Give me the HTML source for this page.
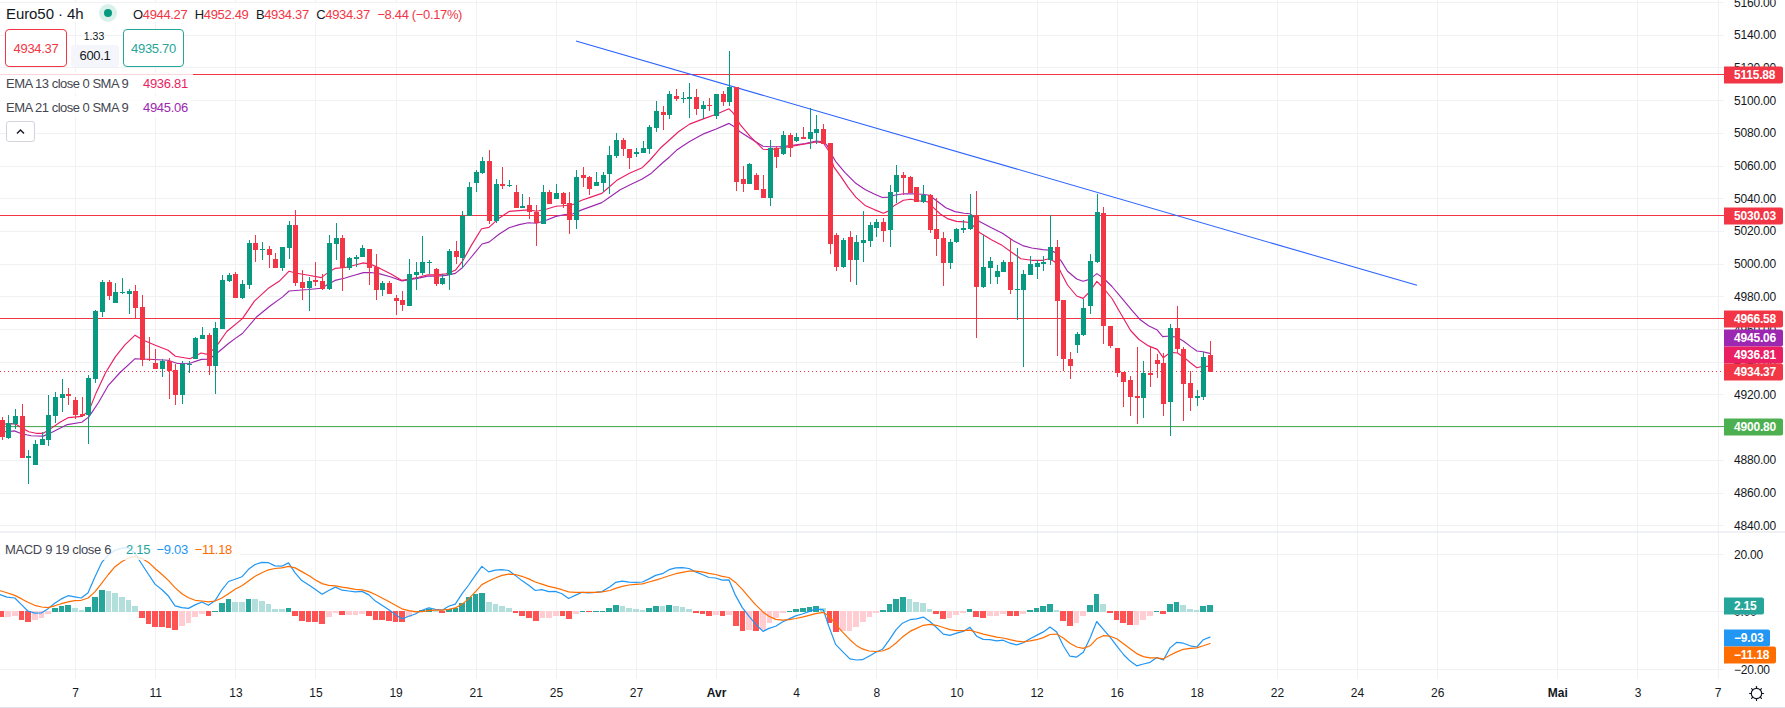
<!DOCTYPE html>
<html><head><meta charset="utf-8"><title>Euro50 4h</title>
<style>
html,body{margin:0;padding:0;background:#fff;}
body{width:1785px;height:708px;position:relative;overflow:hidden;font-family:"Liberation Sans", Arial, sans-serif;color:#131722;}
.t{position:absolute;white-space:nowrap;line-height:1;}
.ax{font-size:12px;left:1734px;transform:translateY(-50%);letter-spacing:-0.2px}
.tm{font-size:12px;top:687px;transform:translateX(-50%);}
.lb{position:absolute;left:1724px;height:17px;line-height:17px;color:#fff;font-size:12px;font-weight:bold;padding:0 6px 0 10px;border-radius:0 2px 2px 0;transform:translateY(-50%);letter-spacing:-0.2px;box-sizing:border-box}
.bg{position:absolute;background:rgba(255,255,255,0.8);}
</style></head><body>

<svg width="1785" height="708" viewBox="0 0 1785 708" style="position:absolute;left:0;top:0">
<g stroke="#f0f1f2" stroke-width="1" shape-rendering="crispEdges">
<line x1="75.5" y1="0" x2="75.5" y2="679"/>
<line x1="155.5" y1="0" x2="155.5" y2="679"/>
<line x1="235.5" y1="0" x2="235.5" y2="679"/>
<line x1="315.5" y1="0" x2="315.5" y2="679"/>
<line x1="396.5" y1="0" x2="396.5" y2="679"/>
<line x1="476.5" y1="0" x2="476.5" y2="679"/>
<line x1="556.5" y1="0" x2="556.5" y2="679"/>
<line x1="636.5" y1="0" x2="636.5" y2="679"/>
<line x1="716.5" y1="0" x2="716.5" y2="679"/>
<line x1="796.5" y1="0" x2="796.5" y2="679"/>
<line x1="876.5" y1="0" x2="876.5" y2="679"/>
<line x1="956.5" y1="0" x2="956.5" y2="679"/>
<line x1="1037.5" y1="0" x2="1037.5" y2="679"/>
<line x1="1117.5" y1="0" x2="1117.5" y2="679"/>
<line x1="1197.5" y1="0" x2="1197.5" y2="679"/>
<line x1="1277.5" y1="0" x2="1277.5" y2="679"/>
<line x1="1357.5" y1="0" x2="1357.5" y2="679"/>
<line x1="1437.5" y1="0" x2="1437.5" y2="679"/>
<line x1="1557.5" y1="0" x2="1557.5" y2="679"/>
<line x1="1637.5" y1="0" x2="1637.5" y2="679"/>
<line x1="1718.5" y1="0" x2="1718.5" y2="679"/>
<line x1="0" y1="525.5" x2="1724" y2="525.5"/>
<line x1="0" y1="493.5" x2="1724" y2="493.5"/>
<line x1="0" y1="460.5" x2="1724" y2="460.5"/>
<line x1="0" y1="427.5" x2="1724" y2="427.5"/>
<line x1="0" y1="394.5" x2="1724" y2="394.5"/>
<line x1="0" y1="362.5" x2="1724" y2="362.5"/>
<line x1="0" y1="329.5" x2="1724" y2="329.5"/>
<line x1="0" y1="296.5" x2="1724" y2="296.5"/>
<line x1="0" y1="264.5" x2="1724" y2="264.5"/>
<line x1="0" y1="231.5" x2="1724" y2="231.5"/>
<line x1="0" y1="198.5" x2="1724" y2="198.5"/>
<line x1="0" y1="166.5" x2="1724" y2="166.5"/>
<line x1="0" y1="133.5" x2="1724" y2="133.5"/>
<line x1="0" y1="100.5" x2="1724" y2="100.5"/>
<line x1="0" y1="67.5" x2="1724" y2="67.5"/>
<line x1="0" y1="35.5" x2="1724" y2="35.5"/>
<line x1="0" y1="2.5" x2="1724" y2="2.5"/>
<line x1="0" y1="554.5" x2="1724" y2="554.5"/>
<line x1="0" y1="611.5" x2="1724" y2="611.5"/>
<line x1="0" y1="669.5" x2="1724" y2="669.5"/>
</g>
<rect x="0" y="531.5" width="1785" height="1" fill="#e0e3eb"/>
<rect x="0" y="707" width="1785" height="1" fill="#e0e3eb"/>
<line x1="0" y1="74.5" x2="1724" y2="74.5" stroke="#f23645" stroke-width="1" shape-rendering="crispEdges"/>
<line x1="0" y1="215.5" x2="1724" y2="215.5" stroke="#f23645" stroke-width="1" shape-rendering="crispEdges"/>
<line x1="0" y1="318.5" x2="1724" y2="318.5" stroke="#f23645" stroke-width="1" shape-rendering="crispEdges"/>
<line x1="0" y1="426.5" x2="1724" y2="426.5" stroke="#4caf50" stroke-width="1" shape-rendering="crispEdges"/>
<line x1="0" y1="371.5" x2="1724" y2="371.5" stroke="#f23645" stroke-width="1" shape-rendering="crispEdges" stroke-dasharray="1 3"/>
<line x1="576" y1="41" x2="1417" y2="285.3" stroke="#2962ff" stroke-width="1.05"/>
<polyline points="0.0,431.5 7.2,431.8 14.4,430.9 21.6,433.7 31.2,435.7 43.2,436.1 51.6,432.5 67.3,424.6 81.7,422.2 88.9,416.9 98.5,402.5 108.1,385.7 120.1,372.5 135.1,358.7 148.9,359.3 168.1,360.2 177.5,363.5 190.0,363.3 201.4,359.4 209.0,359.2 219.0,351.5 228.2,343.7 236.0,337.9 242.4,333.5 256.5,317.0 270.0,306.0 282.7,296.9 289.1,291.0 308.4,289.5 321.3,288.2 328.6,284.0 335.0,280.4 345.1,278.0 354.3,275.2 363.5,272.6 370.8,272.5 380.0,273.9 391.0,277.0 402.0,280.9 409.4,279.8 418.5,278.1 427.7,276.1 436.9,276.1 446.1,275.4 455.3,273.4 462.6,267.5 471.8,256.5 482.0,244.0 489.0,242.1 499.0,234.2 509.1,227.7 519.2,224.6 528.4,222.8 536.7,223.3 546.8,220.0 556.0,216.4 565.1,214.5 572.5,214.0 581.7,209.9 590.8,206.6 601.8,202.6 609.2,197.5 620.2,189.7 631.2,184.2 642.2,179.1 651.4,173.2 662.4,163.0 669.8,156.7 676.7,150.1 689.6,141.5 704.2,133.6 716.2,129.0 729.0,123.4 733.6,126.3 740.0,131.8 750.1,138.2 763.0,146.3 770.3,146.8 779.5,146.7 790.5,145.6 805.2,143.5 816.2,141.0 823.6,141.8 827.2,145.5 830.1,152.1 835.6,161.3 844.8,172.3 855.8,183.3 865.0,189.4 874.2,194.0 882.4,197.5 888.9,197.1 894.4,195.3 903.5,193.8 912.7,193.8 921.9,194.3 929.3,195.3 936.6,200.8 945.8,207.7 955.0,211.6 964.1,213.2 970.0,213.8 979.5,221.4 991.4,227.8 1002.4,233.3 1013.4,240.7 1022.6,245.6 1031.8,248.0 1042.8,249.6 1050.1,250.2 1055.6,252.6 1058.3,257.5 1061.1,260.9 1067.5,271.2 1076.7,279.0 1083.1,281.3 1089.5,279.4 1096.9,273.6 1103.8,278.5 1112.0,286.5 1122.6,299.2 1132.4,310.8 1140.3,319.8 1148.5,325.7 1157.3,330.1 1162.7,336.6 1170.2,336.0 1177.5,337.6 1184.0,341.5 1191.0,346.9 1196.9,351.0 1202.8,351.8 1209.8,353.4" fill="none" stroke="#9c27b0" stroke-width="1.15" stroke-linejoin="round" stroke-linecap="round"/>
<polyline points="0.0,424.5 10.8,423.6 15.6,424.1 21.6,427.7 28.8,431.8 36.0,433.3 43.2,433.3 50.4,428.9 60.0,422.2 68.5,417.6 81.7,416.4 88.9,410.9 96.1,392.9 105.7,372.5 115.3,356.9 124.9,344.9 135.1,335.2 142.4,339.7 155.3,345.3 168.1,350.2 175.4,356.3 190.1,358.7 201.1,353.0 207.6,354.4 215.8,347.1 226.8,331.5 242.4,318.6 254.4,301.2 268.0,288.6 279.1,281.3 289.1,271.2 295.6,273.0 308.4,275.2 321.3,277.6 328.6,272.1 335.0,268.4 345.1,267.5 354.3,265.3 363.5,262.9 370.8,264.4 380.0,268.4 391.0,273.9 402.0,280.4 409.4,279.1 418.5,277.2 427.7,274.8 436.9,274.8 446.1,273.9 455.3,270.3 462.6,261.1 471.8,244.6 481.6,228.7 489.0,227.4 499.0,218.2 509.1,211.4 528.4,209.9 536.7,211.2 546.8,209.0 556.0,206.3 563.3,205.7 572.5,204.8 581.7,200.2 590.8,197.1 601.8,193.4 609.2,187.0 616.5,180.6 629.4,173.2 642.2,167.7 649.6,160.5 660.2,148.3 669.4,140.0 678.5,131.8 689.6,124.1 703.3,118.9 716.2,114.3 729.0,108.8 733.6,113.4 740.0,124.4 750.1,136.4 763.0,149.2 770.3,149.6 779.5,148.3 790.5,146.4 805.2,144.0 816.2,141.9 823.2,142.8 828.3,150.3 833.8,166.8 841.1,176.9 848.5,187.9 855.8,197.1 865.0,205.4 874.2,209.6 883.4,213.2 888.9,210.9 894.4,205.4 903.5,200.2 910.9,199.3 918.2,200.8 927.4,201.7 932.9,207.2 940.3,214.0 947.3,218.6 956.5,221.4 963.9,221.9 970.0,222.5 979.5,232.4 991.4,239.7 1002.4,245.6 1013.4,253.5 1020.8,258.7 1031.8,260.3 1042.8,260.3 1049.0,258.8 1054.7,261.8 1058.3,266.7 1061.1,272.8 1067.5,285.0 1076.7,296.0 1083.1,298.4 1089.5,292.0 1096.9,281.4 1103.8,288.5 1112.0,298.5 1120.8,313.8 1130.6,330.5 1139.0,339.5 1148.5,345.9 1157.3,349.4 1163.3,357.8 1170.2,352.4 1177.5,353.0 1184.0,357.4 1191.0,363.3 1196.9,367.8 1202.8,366.3 1209.8,366.3" fill="none" stroke="#e91e63" stroke-width="1.15" stroke-linejoin="round" stroke-linecap="round"/>
<rect x="2" y="417" width="1" height="23" fill="#f23645"/>
<rect x="0" y="420" width="5" height="17" fill="#f23645"/>
<rect x="8" y="415" width="1" height="24" fill="#089981"/>
<rect x="6" y="423" width="5" height="15" fill="#089981"/>
<rect x="15" y="409" width="1" height="20" fill="#089981"/>
<rect x="13" y="416" width="5" height="8" fill="#089981"/>
<rect x="22" y="404" width="1" height="54" fill="#f23645"/>
<rect x="20" y="416" width="5" height="42" fill="#f23645"/>
<rect x="28" y="450" width="1" height="34" fill="#089981"/>
<rect x="26" y="456" width="5" height="2" fill="#089981"/>
<rect x="35" y="440" width="1" height="25" fill="#089981"/>
<rect x="33" y="444" width="5" height="21" fill="#089981"/>
<rect x="42" y="432" width="1" height="13" fill="#089981"/>
<rect x="40" y="439" width="5" height="6" fill="#089981"/>
<rect x="48" y="395" width="1" height="51" fill="#089981"/>
<rect x="46" y="415" width="5" height="25" fill="#089981"/>
<rect x="55" y="392" width="1" height="31" fill="#089981"/>
<rect x="53" y="397" width="5" height="19" fill="#089981"/>
<rect x="62" y="379" width="1" height="33" fill="#089981"/>
<rect x="60" y="394" width="5" height="4" fill="#089981"/>
<rect x="68" y="388" width="1" height="17" fill="#f23645"/>
<rect x="66" y="394" width="5" height="2" fill="#f23645"/>
<rect x="75" y="397" width="1" height="22" fill="#f23645"/>
<rect x="73" y="400" width="5" height="15" fill="#f23645"/>
<rect x="82" y="397" width="1" height="20" fill="#f23645"/>
<rect x="80" y="414" width="5" height="2" fill="#f23645"/>
<rect x="88" y="375" width="1" height="69" fill="#089981"/>
<rect x="86" y="378" width="5" height="37" fill="#089981"/>
<rect x="95" y="310" width="1" height="73" fill="#089981"/>
<rect x="93" y="311" width="5" height="68" fill="#089981"/>
<rect x="102" y="280" width="1" height="37" fill="#089981"/>
<rect x="100" y="282" width="5" height="30" fill="#089981"/>
<rect x="109" y="280" width="1" height="20" fill="#f23645"/>
<rect x="107" y="282" width="5" height="14" fill="#f23645"/>
<rect x="115" y="283" width="1" height="20" fill="#089981"/>
<rect x="113" y="292" width="5" height="11" fill="#089981"/>
<rect x="122" y="278" width="1" height="16" fill="#089981"/>
<rect x="120" y="292" width="5" height="1" fill="#089981"/>
<rect x="129" y="289" width="1" height="25" fill="#089981"/>
<rect x="127" y="291" width="5" height="3" fill="#089981"/>
<rect x="135" y="285" width="1" height="33" fill="#f23645"/>
<rect x="133" y="291" width="5" height="17" fill="#f23645"/>
<rect x="142" y="295" width="1" height="71" fill="#f23645"/>
<rect x="140" y="307" width="5" height="53" fill="#f23645"/>
<rect x="149" y="337" width="1" height="24" fill="#f23645"/>
<rect x="147" y="359" width="5" height="1" fill="#f23645"/>
<rect x="155" y="349" width="1" height="20" fill="#f23645"/>
<rect x="153" y="363" width="5" height="6" fill="#f23645"/>
<rect x="162" y="359" width="1" height="18" fill="#089981"/>
<rect x="160" y="361" width="5" height="8" fill="#089981"/>
<rect x="169" y="358" width="1" height="41" fill="#f23645"/>
<rect x="167" y="361" width="5" height="10" fill="#f23645"/>
<rect x="175" y="364" width="1" height="41" fill="#f23645"/>
<rect x="173" y="370" width="5" height="25" fill="#f23645"/>
<rect x="182" y="361" width="1" height="43" fill="#089981"/>
<rect x="180" y="364" width="5" height="31" fill="#089981"/>
<rect x="189" y="361" width="1" height="12" fill="#089981"/>
<rect x="187" y="364" width="5" height="1" fill="#089981"/>
<rect x="195" y="337" width="1" height="22" fill="#089981"/>
<rect x="193" y="338" width="5" height="21" fill="#089981"/>
<rect x="202" y="327" width="1" height="12" fill="#089981"/>
<rect x="200" y="335" width="5" height="4" fill="#089981"/>
<rect x="209" y="333" width="1" height="42" fill="#f23645"/>
<rect x="207" y="335" width="5" height="31" fill="#f23645"/>
<rect x="215" y="322" width="1" height="72" fill="#089981"/>
<rect x="213" y="328" width="5" height="38" fill="#089981"/>
<rect x="222" y="275" width="1" height="54" fill="#089981"/>
<rect x="220" y="280" width="5" height="49" fill="#089981"/>
<rect x="229" y="273" width="1" height="9" fill="#089981"/>
<rect x="227" y="275" width="5" height="6" fill="#089981"/>
<rect x="235" y="272" width="1" height="26" fill="#f23645"/>
<rect x="233" y="274" width="5" height="24" fill="#f23645"/>
<rect x="242" y="280" width="1" height="19" fill="#089981"/>
<rect x="240" y="284" width="5" height="14" fill="#089981"/>
<rect x="249" y="240" width="1" height="49" fill="#089981"/>
<rect x="247" y="243" width="5" height="42" fill="#089981"/>
<rect x="255" y="235" width="1" height="27" fill="#f23645"/>
<rect x="253" y="243" width="5" height="7" fill="#f23645"/>
<rect x="262" y="242" width="1" height="18" fill="#089981"/>
<rect x="260" y="249" width="5" height="1" fill="#089981"/>
<rect x="269" y="246" width="1" height="22" fill="#f23645"/>
<rect x="267" y="249" width="5" height="6" fill="#f23645"/>
<rect x="275" y="253" width="1" height="15" fill="#f23645"/>
<rect x="273" y="259" width="5" height="9" fill="#f23645"/>
<rect x="282" y="247" width="1" height="24" fill="#089981"/>
<rect x="280" y="247" width="5" height="21" fill="#089981"/>
<rect x="289" y="221" width="1" height="38" fill="#089981"/>
<rect x="287" y="225" width="5" height="23" fill="#089981"/>
<rect x="295" y="210" width="1" height="76" fill="#f23645"/>
<rect x="293" y="225" width="5" height="58" fill="#f23645"/>
<rect x="302" y="270" width="1" height="30" fill="#f23645"/>
<rect x="300" y="282" width="5" height="6" fill="#f23645"/>
<rect x="309" y="277" width="1" height="34" fill="#089981"/>
<rect x="307" y="281" width="5" height="7" fill="#089981"/>
<rect x="315" y="262" width="1" height="24" fill="#f23645"/>
<rect x="313" y="280" width="5" height="2" fill="#f23645"/>
<rect x="322" y="274" width="1" height="16" fill="#f23645"/>
<rect x="320" y="281" width="5" height="8" fill="#f23645"/>
<rect x="329" y="235" width="1" height="55" fill="#089981"/>
<rect x="327" y="243" width="5" height="46" fill="#089981"/>
<rect x="336" y="223" width="1" height="37" fill="#089981"/>
<rect x="334" y="238" width="5" height="6" fill="#089981"/>
<rect x="342" y="235" width="1" height="56" fill="#f23645"/>
<rect x="340" y="238" width="5" height="30" fill="#f23645"/>
<rect x="349" y="257" width="1" height="13" fill="#089981"/>
<rect x="347" y="258" width="5" height="10" fill="#089981"/>
<rect x="356" y="255" width="1" height="12" fill="#089981"/>
<rect x="354" y="257" width="5" height="2" fill="#089981"/>
<rect x="362" y="245" width="1" height="12" fill="#089981"/>
<rect x="360" y="248" width="5" height="9" fill="#089981"/>
<rect x="369" y="249" width="1" height="36" fill="#f23645"/>
<rect x="367" y="249" width="5" height="19" fill="#f23645"/>
<rect x="376" y="254" width="1" height="46" fill="#f23645"/>
<rect x="374" y="267" width="5" height="23" fill="#f23645"/>
<rect x="382" y="281" width="1" height="15" fill="#089981"/>
<rect x="380" y="283" width="5" height="7" fill="#089981"/>
<rect x="389" y="281" width="1" height="13" fill="#f23645"/>
<rect x="387" y="283" width="5" height="11" fill="#f23645"/>
<rect x="396" y="295" width="1" height="20" fill="#f23645"/>
<rect x="394" y="298" width="5" height="3" fill="#f23645"/>
<rect x="402" y="291" width="1" height="20" fill="#f23645"/>
<rect x="400" y="300" width="5" height="5" fill="#f23645"/>
<rect x="409" y="259" width="1" height="47" fill="#089981"/>
<rect x="407" y="274" width="5" height="32" fill="#089981"/>
<rect x="416" y="262" width="1" height="28" fill="#089981"/>
<rect x="414" y="272" width="5" height="3" fill="#089981"/>
<rect x="422" y="236" width="1" height="39" fill="#089981"/>
<rect x="420" y="262" width="5" height="11" fill="#089981"/>
<rect x="429" y="260" width="1" height="14" fill="#089981"/>
<rect x="427" y="262" width="5" height="1" fill="#089981"/>
<rect x="436" y="268" width="1" height="18" fill="#f23645"/>
<rect x="434" y="269" width="5" height="15" fill="#f23645"/>
<rect x="442" y="274" width="1" height="11" fill="#089981"/>
<rect x="440" y="278" width="5" height="6" fill="#089981"/>
<rect x="449" y="249" width="1" height="41" fill="#089981"/>
<rect x="447" y="251" width="5" height="24" fill="#089981"/>
<rect x="456" y="241" width="1" height="23" fill="#f23645"/>
<rect x="454" y="251" width="5" height="6" fill="#f23645"/>
<rect x="462" y="211" width="1" height="57" fill="#089981"/>
<rect x="460" y="216" width="5" height="42" fill="#089981"/>
<rect x="469" y="182" width="1" height="34" fill="#089981"/>
<rect x="467" y="187" width="5" height="29" fill="#089981"/>
<rect x="476" y="170" width="1" height="22" fill="#089981"/>
<rect x="474" y="172" width="5" height="11" fill="#089981"/>
<rect x="482" y="157" width="1" height="17" fill="#089981"/>
<rect x="480" y="161" width="5" height="12" fill="#089981"/>
<rect x="489" y="150" width="1" height="74" fill="#f23645"/>
<rect x="487" y="161" width="5" height="60" fill="#f23645"/>
<rect x="496" y="179" width="1" height="44" fill="#089981"/>
<rect x="494" y="184" width="5" height="37" fill="#089981"/>
<rect x="502" y="167" width="1" height="22" fill="#f23645"/>
<rect x="500" y="184" width="5" height="2" fill="#f23645"/>
<rect x="509" y="180" width="1" height="7" fill="#089981"/>
<rect x="507" y="185" width="5" height="1" fill="#089981"/>
<rect x="516" y="185" width="1" height="23" fill="#f23645"/>
<rect x="514" y="192" width="5" height="16" fill="#f23645"/>
<rect x="522" y="194" width="1" height="14" fill="#089981"/>
<rect x="520" y="206" width="5" height="2" fill="#089981"/>
<rect x="529" y="197" width="1" height="22" fill="#f23645"/>
<rect x="527" y="205" width="5" height="7" fill="#f23645"/>
<rect x="536" y="205" width="1" height="41" fill="#f23645"/>
<rect x="534" y="212" width="5" height="11" fill="#f23645"/>
<rect x="543" y="185" width="1" height="39" fill="#089981"/>
<rect x="541" y="192" width="5" height="32" fill="#089981"/>
<rect x="549" y="190" width="1" height="14" fill="#f23645"/>
<rect x="547" y="192" width="5" height="12" fill="#f23645"/>
<rect x="556" y="184" width="1" height="15" fill="#089981"/>
<rect x="554" y="193" width="5" height="6" fill="#089981"/>
<rect x="563" y="192" width="1" height="16" fill="#f23645"/>
<rect x="561" y="193" width="5" height="11" fill="#f23645"/>
<rect x="569" y="192" width="1" height="42" fill="#f23645"/>
<rect x="567" y="203" width="5" height="17" fill="#f23645"/>
<rect x="576" y="170" width="1" height="59" fill="#089981"/>
<rect x="574" y="177" width="5" height="43" fill="#089981"/>
<rect x="583" y="167" width="1" height="20" fill="#f23645"/>
<rect x="581" y="175" width="5" height="3" fill="#f23645"/>
<rect x="589" y="176" width="1" height="19" fill="#f23645"/>
<rect x="587" y="177" width="5" height="12" fill="#f23645"/>
<rect x="596" y="172" width="1" height="14" fill="#089981"/>
<rect x="594" y="182" width="5" height="4" fill="#089981"/>
<rect x="603" y="172" width="1" height="20" fill="#089981"/>
<rect x="601" y="175" width="5" height="8" fill="#089981"/>
<rect x="609" y="146" width="1" height="48" fill="#089981"/>
<rect x="607" y="155" width="5" height="19" fill="#089981"/>
<rect x="616" y="133" width="1" height="25" fill="#089981"/>
<rect x="614" y="140" width="5" height="16" fill="#089981"/>
<rect x="623" y="138" width="1" height="18" fill="#f23645"/>
<rect x="621" y="140" width="5" height="9" fill="#f23645"/>
<rect x="629" y="149" width="1" height="20" fill="#f23645"/>
<rect x="627" y="149" width="5" height="9" fill="#f23645"/>
<rect x="636" y="148" width="1" height="9" fill="#089981"/>
<rect x="634" y="152" width="5" height="2" fill="#089981"/>
<rect x="643" y="141" width="1" height="12" fill="#089981"/>
<rect x="641" y="148" width="5" height="5" fill="#089981"/>
<rect x="649" y="125" width="1" height="29" fill="#089981"/>
<rect x="647" y="127" width="5" height="22" fill="#089981"/>
<rect x="656" y="101" width="1" height="31" fill="#089981"/>
<rect x="654" y="111" width="5" height="17" fill="#089981"/>
<rect x="663" y="106" width="1" height="24" fill="#f23645"/>
<rect x="661" y="112" width="5" height="3" fill="#f23645"/>
<rect x="669" y="91" width="1" height="28" fill="#089981"/>
<rect x="667" y="94" width="5" height="21" fill="#089981"/>
<rect x="676" y="89" width="1" height="12" fill="#f23645"/>
<rect x="674" y="96" width="5" height="3" fill="#f23645"/>
<rect x="683" y="92" width="1" height="11" fill="#089981"/>
<rect x="681" y="98" width="5" height="1" fill="#089981"/>
<rect x="689" y="83" width="1" height="35" fill="#089981"/>
<rect x="687" y="97" width="5" height="2" fill="#089981"/>
<rect x="696" y="89" width="1" height="26" fill="#f23645"/>
<rect x="694" y="97" width="5" height="12" fill="#f23645"/>
<rect x="703" y="101" width="1" height="18" fill="#089981"/>
<rect x="701" y="105" width="5" height="4" fill="#089981"/>
<rect x="709" y="98" width="1" height="13" fill="#f23645"/>
<rect x="707" y="105" width="5" height="1" fill="#f23645"/>
<rect x="716" y="94" width="1" height="25" fill="#089981"/>
<rect x="714" y="94" width="5" height="22" fill="#089981"/>
<rect x="723" y="91" width="1" height="15" fill="#f23645"/>
<rect x="721" y="94" width="5" height="8" fill="#f23645"/>
<rect x="729" y="51" width="1" height="55" fill="#089981"/>
<rect x="727" y="87" width="5" height="15" fill="#089981"/>
<rect x="736" y="87" width="1" height="104" fill="#f23645"/>
<rect x="734" y="87" width="5" height="95" fill="#f23645"/>
<rect x="743" y="166" width="1" height="26" fill="#f23645"/>
<rect x="741" y="179" width="5" height="5" fill="#f23645"/>
<rect x="749" y="163" width="1" height="21" fill="#089981"/>
<rect x="747" y="164" width="5" height="20" fill="#089981"/>
<rect x="756" y="173" width="1" height="17" fill="#f23645"/>
<rect x="754" y="175" width="5" height="15" fill="#f23645"/>
<rect x="763" y="175" width="1" height="23" fill="#f23645"/>
<rect x="761" y="189" width="5" height="9" fill="#f23645"/>
<rect x="770" y="140" width="1" height="66" fill="#089981"/>
<rect x="768" y="148" width="5" height="50" fill="#089981"/>
<rect x="776" y="146" width="1" height="22" fill="#f23645"/>
<rect x="774" y="148" width="5" height="9" fill="#f23645"/>
<rect x="783" y="131" width="1" height="24" fill="#089981"/>
<rect x="781" y="135" width="5" height="19" fill="#089981"/>
<rect x="790" y="133" width="1" height="24" fill="#f23645"/>
<rect x="788" y="135" width="5" height="13" fill="#f23645"/>
<rect x="796" y="133" width="1" height="9" fill="#089981"/>
<rect x="794" y="137" width="5" height="4" fill="#089981"/>
<rect x="803" y="127" width="1" height="12" fill="#f23645"/>
<rect x="801" y="137" width="5" height="2" fill="#f23645"/>
<rect x="810" y="108" width="1" height="41" fill="#089981"/>
<rect x="808" y="132" width="5" height="7" fill="#089981"/>
<rect x="816" y="115" width="1" height="29" fill="#089981"/>
<rect x="814" y="129" width="5" height="4" fill="#089981"/>
<rect x="823" y="124" width="1" height="20" fill="#f23645"/>
<rect x="821" y="129" width="5" height="15" fill="#f23645"/>
<rect x="830" y="143" width="1" height="111" fill="#f23645"/>
<rect x="828" y="143" width="5" height="101" fill="#f23645"/>
<rect x="836" y="233" width="1" height="38" fill="#f23645"/>
<rect x="834" y="235" width="5" height="32" fill="#f23645"/>
<rect x="843" y="238" width="1" height="30" fill="#089981"/>
<rect x="841" y="240" width="5" height="27" fill="#089981"/>
<rect x="850" y="231" width="1" height="51" fill="#f23645"/>
<rect x="848" y="237" width="5" height="23" fill="#f23645"/>
<rect x="856" y="235" width="1" height="50" fill="#089981"/>
<rect x="854" y="242" width="5" height="18" fill="#089981"/>
<rect x="863" y="211" width="1" height="51" fill="#089981"/>
<rect x="861" y="240" width="5" height="3" fill="#089981"/>
<rect x="870" y="222" width="1" height="25" fill="#089981"/>
<rect x="868" y="225" width="5" height="16" fill="#089981"/>
<rect x="876" y="219" width="1" height="18" fill="#089981"/>
<rect x="874" y="222" width="5" height="6" fill="#089981"/>
<rect x="883" y="218" width="1" height="24" fill="#f23645"/>
<rect x="881" y="222" width="5" height="9" fill="#f23645"/>
<rect x="890" y="185" width="1" height="62" fill="#089981"/>
<rect x="888" y="192" width="5" height="38" fill="#089981"/>
<rect x="896" y="165" width="1" height="38" fill="#089981"/>
<rect x="894" y="175" width="5" height="17" fill="#089981"/>
<rect x="903" y="172" width="1" height="23" fill="#f23645"/>
<rect x="901" y="175" width="5" height="3" fill="#f23645"/>
<rect x="910" y="176" width="1" height="17" fill="#f23645"/>
<rect x="908" y="177" width="5" height="16" fill="#f23645"/>
<rect x="916" y="187" width="1" height="15" fill="#f23645"/>
<rect x="914" y="187" width="5" height="15" fill="#f23645"/>
<rect x="923" y="185" width="1" height="18" fill="#089981"/>
<rect x="921" y="195" width="5" height="7" fill="#089981"/>
<rect x="930" y="194" width="1" height="39" fill="#f23645"/>
<rect x="928" y="195" width="5" height="35" fill="#f23645"/>
<rect x="936" y="198" width="1" height="58" fill="#f23645"/>
<rect x="934" y="229" width="5" height="10" fill="#f23645"/>
<rect x="943" y="232" width="1" height="54" fill="#f23645"/>
<rect x="941" y="238" width="5" height="25" fill="#f23645"/>
<rect x="950" y="239" width="1" height="30" fill="#089981"/>
<rect x="948" y="242" width="5" height="21" fill="#089981"/>
<rect x="956" y="228" width="1" height="15" fill="#089981"/>
<rect x="954" y="229" width="5" height="13" fill="#089981"/>
<rect x="963" y="220" width="1" height="13" fill="#089981"/>
<rect x="961" y="228" width="5" height="2" fill="#089981"/>
<rect x="970" y="194" width="1" height="36" fill="#089981"/>
<rect x="968" y="215" width="5" height="14" fill="#089981"/>
<rect x="976" y="191" width="1" height="147" fill="#f23645"/>
<rect x="974" y="215" width="5" height="72" fill="#f23645"/>
<rect x="983" y="235" width="1" height="53" fill="#089981"/>
<rect x="981" y="267" width="5" height="20" fill="#089981"/>
<rect x="990" y="257" width="1" height="27" fill="#089981"/>
<rect x="988" y="261" width="5" height="7" fill="#089981"/>
<rect x="997" y="265" width="1" height="19" fill="#089981"/>
<rect x="995" y="271" width="5" height="6" fill="#089981"/>
<rect x="1003" y="260" width="1" height="12" fill="#089981"/>
<rect x="1001" y="262" width="5" height="10" fill="#089981"/>
<rect x="1010" y="238" width="1" height="56" fill="#f23645"/>
<rect x="1008" y="262" width="5" height="28" fill="#f23645"/>
<rect x="1017" y="248" width="1" height="72" fill="#089981"/>
<rect x="1015" y="289" width="5" height="1" fill="#089981"/>
<rect x="1023" y="270" width="1" height="97" fill="#089981"/>
<rect x="1021" y="274" width="5" height="16" fill="#089981"/>
<rect x="1030" y="256" width="1" height="19" fill="#089981"/>
<rect x="1028" y="264" width="5" height="11" fill="#089981"/>
<rect x="1037" y="260" width="1" height="19" fill="#089981"/>
<rect x="1035" y="263" width="5" height="4" fill="#089981"/>
<rect x="1043" y="256" width="1" height="15" fill="#089981"/>
<rect x="1041" y="262" width="5" height="2" fill="#089981"/>
<rect x="1050" y="215" width="1" height="50" fill="#089981"/>
<rect x="1048" y="247" width="5" height="13" fill="#089981"/>
<rect x="1057" y="240" width="1" height="116" fill="#f23645"/>
<rect x="1055" y="247" width="5" height="54" fill="#f23645"/>
<rect x="1063" y="300" width="1" height="71" fill="#f23645"/>
<rect x="1061" y="300" width="5" height="59" fill="#f23645"/>
<rect x="1070" y="352" width="1" height="27" fill="#f23645"/>
<rect x="1068" y="359" width="5" height="7" fill="#f23645"/>
<rect x="1077" y="332" width="1" height="21" fill="#089981"/>
<rect x="1075" y="334" width="5" height="11" fill="#089981"/>
<rect x="1083" y="299" width="1" height="37" fill="#089981"/>
<rect x="1081" y="308" width="5" height="27" fill="#089981"/>
<rect x="1090" y="254" width="1" height="60" fill="#089981"/>
<rect x="1088" y="261" width="5" height="45" fill="#089981"/>
<rect x="1097" y="194" width="1" height="69" fill="#089981"/>
<rect x="1095" y="212" width="5" height="50" fill="#089981"/>
<rect x="1103" y="207" width="1" height="137" fill="#f23645"/>
<rect x="1101" y="213" width="5" height="113" fill="#f23645"/>
<rect x="1110" y="326" width="1" height="22" fill="#f23645"/>
<rect x="1108" y="326" width="5" height="20" fill="#f23645"/>
<rect x="1117" y="348" width="1" height="29" fill="#f23645"/>
<rect x="1115" y="348" width="5" height="25" fill="#f23645"/>
<rect x="1123" y="372" width="1" height="35" fill="#f23645"/>
<rect x="1121" y="372" width="5" height="10" fill="#f23645"/>
<rect x="1130" y="376" width="1" height="40" fill="#f23645"/>
<rect x="1128" y="380" width="5" height="17" fill="#f23645"/>
<rect x="1137" y="347" width="1" height="77" fill="#f23645"/>
<rect x="1135" y="396" width="5" height="2" fill="#f23645"/>
<rect x="1143" y="361" width="1" height="57" fill="#089981"/>
<rect x="1141" y="373" width="5" height="25" fill="#089981"/>
<rect x="1150" y="346" width="1" height="41" fill="#f23645"/>
<rect x="1148" y="373" width="5" height="2" fill="#f23645"/>
<rect x="1157" y="354" width="1" height="24" fill="#f23645"/>
<rect x="1155" y="360" width="5" height="4" fill="#f23645"/>
<rect x="1163" y="353" width="1" height="63" fill="#f23645"/>
<rect x="1161" y="363" width="5" height="41" fill="#f23645"/>
<rect x="1170" y="324" width="1" height="112" fill="#089981"/>
<rect x="1168" y="328" width="5" height="74" fill="#089981"/>
<rect x="1177" y="306" width="1" height="47" fill="#f23645"/>
<rect x="1175" y="328" width="5" height="21" fill="#f23645"/>
<rect x="1183" y="347" width="1" height="74" fill="#f23645"/>
<rect x="1181" y="349" width="5" height="35" fill="#f23645"/>
<rect x="1190" y="371" width="1" height="40" fill="#f23645"/>
<rect x="1188" y="383" width="5" height="15" fill="#f23645"/>
<rect x="1197" y="390" width="1" height="16" fill="#089981"/>
<rect x="1195" y="396" width="5" height="2" fill="#089981"/>
<rect x="1203" y="352" width="1" height="48" fill="#089981"/>
<rect x="1201" y="357" width="5" height="40" fill="#089981"/>
<rect x="1210" y="341" width="1" height="31" fill="#f23645"/>
<rect x="1208" y="355" width="5" height="17" fill="#f23645"/>
<rect x="-1" y="611" width="5" height="6" fill="#ff5252"/>
<rect x="5" y="611" width="6" height="6" fill="#ffcdd2"/>
<rect x="12" y="611" width="6" height="5" fill="#ffcdd2"/>
<rect x="19" y="611" width="5" height="9" fill="#ff5252"/>
<rect x="25" y="611" width="6" height="11" fill="#ff5252"/>
<rect x="32" y="611" width="6" height="9" fill="#ffcdd2"/>
<rect x="39" y="611" width="5" height="7" fill="#ffcdd2"/>
<rect x="45" y="611" width="6" height="3" fill="#ffcdd2"/>
<rect x="52" y="608" width="6" height="4" fill="#26a69a"/>
<rect x="59" y="606" width="5" height="6" fill="#26a69a"/>
<rect x="65" y="605" width="6" height="7" fill="#26a69a"/>
<rect x="72" y="608" width="6" height="4" fill="#b2dfdb"/>
<rect x="79" y="610" width="5" height="2" fill="#b2dfdb"/>
<rect x="85" y="607" width="6" height="5" fill="#26a69a"/>
<rect x="92" y="597" width="6" height="15" fill="#26a69a"/>
<rect x="99" y="590" width="6" height="22" fill="#26a69a"/>
<rect x="106" y="591" width="5" height="21" fill="#b2dfdb"/>
<rect x="112" y="593" width="6" height="19" fill="#b2dfdb"/>
<rect x="119" y="597" width="6" height="15" fill="#b2dfdb"/>
<rect x="126" y="600" width="5" height="12" fill="#b2dfdb"/>
<rect x="132" y="606" width="6" height="6" fill="#b2dfdb"/>
<rect x="139" y="611" width="6" height="7" fill="#ff5252"/>
<rect x="146" y="611" width="5" height="13" fill="#ff5252"/>
<rect x="152" y="611" width="6" height="16" fill="#ff5252"/>
<rect x="159" y="611" width="6" height="16" fill="#ff5252"/>
<rect x="166" y="611" width="5" height="17" fill="#ff5252"/>
<rect x="172" y="611" width="6" height="19" fill="#ff5252"/>
<rect x="179" y="611" width="6" height="15" fill="#ffcdd2"/>
<rect x="186" y="611" width="5" height="12" fill="#ffcdd2"/>
<rect x="192" y="611" width="6" height="6" fill="#ffcdd2"/>
<rect x="199" y="611" width="6" height="3" fill="#ffcdd2"/>
<rect x="206" y="611" width="5" height="5" fill="#ff5252"/>
<rect x="212" y="611" width="6" height="1" fill="#26a69a"/>
<rect x="219" y="603" width="6" height="9" fill="#26a69a"/>
<rect x="226" y="599" width="5" height="13" fill="#26a69a"/>
<rect x="232" y="602" width="6" height="10" fill="#b2dfdb"/>
<rect x="239" y="602" width="6" height="10" fill="#b2dfdb"/>
<rect x="246" y="599" width="5" height="13" fill="#26a69a"/>
<rect x="252" y="599" width="6" height="13" fill="#b2dfdb"/>
<rect x="259" y="601" width="6" height="11" fill="#b2dfdb"/>
<rect x="266" y="604" width="5" height="8" fill="#b2dfdb"/>
<rect x="272" y="609" width="6" height="3" fill="#b2dfdb"/>
<rect x="279" y="609" width="6" height="3" fill="#b2dfdb"/>
<rect x="286" y="608" width="5" height="4" fill="#26a69a"/>
<rect x="292" y="611" width="6" height="5" fill="#ff5252"/>
<rect x="299" y="611" width="6" height="10" fill="#ff5252"/>
<rect x="306" y="611" width="5" height="11" fill="#ff5252"/>
<rect x="312" y="611" width="6" height="11" fill="#ff5252"/>
<rect x="319" y="611" width="6" height="13" fill="#ff5252"/>
<rect x="326" y="611" width="6" height="6" fill="#ffcdd2"/>
<rect x="333" y="611" width="5" height="2" fill="#ffcdd2"/>
<rect x="339" y="611" width="6" height="4" fill="#ff5252"/>
<rect x="346" y="611" width="6" height="4" fill="#ffcdd2"/>
<rect x="353" y="611" width="5" height="4" fill="#ffcdd2"/>
<rect x="359" y="611" width="6" height="3" fill="#ffcdd2"/>
<rect x="366" y="611" width="6" height="5" fill="#ff5252"/>
<rect x="373" y="611" width="5" height="9" fill="#ff5252"/>
<rect x="379" y="611" width="6" height="9" fill="#ff5252"/>
<rect x="386" y="611" width="6" height="10" fill="#ff5252"/>
<rect x="393" y="611" width="5" height="11" fill="#ff5252"/>
<rect x="399" y="611" width="6" height="11" fill="#ff5252"/>
<rect x="406" y="611" width="6" height="6" fill="#ffcdd2"/>
<rect x="413" y="611" width="5" height="2" fill="#ffcdd2"/>
<rect x="419" y="610" width="6" height="2" fill="#26a69a"/>
<rect x="426" y="609" width="6" height="3" fill="#26a69a"/>
<rect x="433" y="611" width="5" height="1" fill="#b2dfdb"/>
<rect x="439" y="611" width="6" height="2" fill="#ff5252"/>
<rect x="446" y="609" width="6" height="3" fill="#26a69a"/>
<rect x="453" y="608" width="5" height="4" fill="#26a69a"/>
<rect x="459" y="603" width="6" height="9" fill="#26a69a"/>
<rect x="466" y="597" width="6" height="15" fill="#26a69a"/>
<rect x="473" y="594" width="5" height="18" fill="#26a69a"/>
<rect x="479" y="593" width="6" height="19" fill="#26a69a"/>
<rect x="486" y="602" width="6" height="10" fill="#b2dfdb"/>
<rect x="493" y="604" width="5" height="8" fill="#b2dfdb"/>
<rect x="499" y="606" width="6" height="6" fill="#b2dfdb"/>
<rect x="506" y="608" width="6" height="4" fill="#b2dfdb"/>
<rect x="513" y="611" width="5" height="2" fill="#ff5252"/>
<rect x="519" y="611" width="6" height="5" fill="#ff5252"/>
<rect x="526" y="611" width="6" height="7" fill="#ff5252"/>
<rect x="533" y="611" width="6" height="10" fill="#ff5252"/>
<rect x="540" y="611" width="5" height="7" fill="#ffcdd2"/>
<rect x="546" y="611" width="6" height="7" fill="#ffcdd2"/>
<rect x="553" y="611" width="6" height="5" fill="#ffcdd2"/>
<rect x="560" y="611" width="5" height="5" fill="#ff5252"/>
<rect x="566" y="611" width="6" height="8" fill="#ff5252"/>
<rect x="573" y="611" width="6" height="3" fill="#ffcdd2"/>
<rect x="580" y="611" width="5" height="1" fill="#26a69a"/>
<rect x="586" y="611" width="6" height="1" fill="#ff5252"/>
<rect x="593" y="611" width="6" height="1" fill="#26a69a"/>
<rect x="600" y="611" width="5" height="1" fill="#26a69a"/>
<rect x="606" y="608" width="6" height="4" fill="#26a69a"/>
<rect x="613" y="605" width="6" height="7" fill="#26a69a"/>
<rect x="620" y="606" width="5" height="6" fill="#b2dfdb"/>
<rect x="626" y="608" width="6" height="4" fill="#b2dfdb"/>
<rect x="633" y="609" width="6" height="3" fill="#b2dfdb"/>
<rect x="640" y="610" width="5" height="2" fill="#b2dfdb"/>
<rect x="646" y="608" width="6" height="4" fill="#26a69a"/>
<rect x="653" y="606" width="6" height="6" fill="#26a69a"/>
<rect x="660" y="606" width="5" height="6" fill="#b2dfdb"/>
<rect x="666" y="605" width="6" height="7" fill="#26a69a"/>
<rect x="673" y="606" width="6" height="6" fill="#b2dfdb"/>
<rect x="680" y="607" width="5" height="5" fill="#b2dfdb"/>
<rect x="686" y="609" width="6" height="3" fill="#b2dfdb"/>
<rect x="693" y="611" width="6" height="2" fill="#ff5252"/>
<rect x="700" y="611" width="5" height="3" fill="#ff5252"/>
<rect x="706" y="611" width="6" height="5" fill="#ff5252"/>
<rect x="713" y="611" width="6" height="4" fill="#ffcdd2"/>
<rect x="720" y="611" width="5" height="5" fill="#ff5252"/>
<rect x="726" y="611" width="6" height="4" fill="#ffcdd2"/>
<rect x="733" y="611" width="6" height="15" fill="#ff5252"/>
<rect x="740" y="611" width="5" height="20" fill="#ff5252"/>
<rect x="746" y="611" width="6" height="19" fill="#ffcdd2"/>
<rect x="753" y="611" width="6" height="20" fill="#ff5252"/>
<rect x="760" y="611" width="6" height="19" fill="#ffcdd2"/>
<rect x="767" y="611" width="5" height="12" fill="#ffcdd2"/>
<rect x="773" y="611" width="6" height="7" fill="#ffcdd2"/>
<rect x="780" y="611" width="6" height="2" fill="#ffcdd2"/>
<rect x="787" y="611" width="5" height="1" fill="#26a69a"/>
<rect x="793" y="609" width="6" height="3" fill="#26a69a"/>
<rect x="800" y="608" width="6" height="4" fill="#26a69a"/>
<rect x="807" y="607" width="5" height="5" fill="#26a69a"/>
<rect x="813" y="606" width="6" height="6" fill="#26a69a"/>
<rect x="820" y="608" width="6" height="4" fill="#b2dfdb"/>
<rect x="827" y="611" width="5" height="12" fill="#ff5252"/>
<rect x="833" y="611" width="6" height="21" fill="#ff5252"/>
<rect x="840" y="611" width="6" height="20" fill="#ffcdd2"/>
<rect x="847" y="611" width="5" height="20" fill="#ffcdd2"/>
<rect x="853" y="611" width="6" height="16" fill="#ffcdd2"/>
<rect x="860" y="611" width="6" height="11" fill="#ffcdd2"/>
<rect x="867" y="611" width="5" height="6" fill="#ffcdd2"/>
<rect x="873" y="611" width="6" height="2" fill="#ffcdd2"/>
<rect x="880" y="610" width="6" height="2" fill="#26a69a"/>
<rect x="887" y="604" width="5" height="8" fill="#26a69a"/>
<rect x="893" y="599" width="6" height="13" fill="#26a69a"/>
<rect x="900" y="597" width="6" height="15" fill="#26a69a"/>
<rect x="907" y="599" width="5" height="13" fill="#b2dfdb"/>
<rect x="913" y="602" width="6" height="10" fill="#b2dfdb"/>
<rect x="920" y="603" width="6" height="9" fill="#b2dfdb"/>
<rect x="927" y="609" width="5" height="3" fill="#b2dfdb"/>
<rect x="933" y="611" width="6" height="3" fill="#ff5252"/>
<rect x="940" y="611" width="6" height="8" fill="#ff5252"/>
<rect x="947" y="611" width="5" height="7" fill="#ffcdd2"/>
<rect x="953" y="611" width="6" height="4" fill="#ffcdd2"/>
<rect x="960" y="611" width="6" height="2" fill="#ffcdd2"/>
<rect x="967" y="609" width="5" height="3" fill="#26a69a"/>
<rect x="973" y="611" width="6" height="6" fill="#ff5252"/>
<rect x="980" y="611" width="6" height="7" fill="#ff5252"/>
<rect x="987" y="611" width="6" height="5" fill="#ffcdd2"/>
<rect x="994" y="611" width="5" height="5" fill="#ffcdd2"/>
<rect x="1000" y="611" width="6" height="3" fill="#ffcdd2"/>
<rect x="1007" y="611" width="6" height="5" fill="#ff5252"/>
<rect x="1014" y="611" width="5" height="5" fill="#ff5252"/>
<rect x="1020" y="611" width="6" height="3" fill="#ffcdd2"/>
<rect x="1027" y="610" width="6" height="2" fill="#26a69a"/>
<rect x="1034" y="608" width="5" height="4" fill="#26a69a"/>
<rect x="1040" y="606" width="6" height="6" fill="#26a69a"/>
<rect x="1047" y="604" width="6" height="8" fill="#26a69a"/>
<rect x="1054" y="610" width="5" height="2" fill="#b2dfdb"/>
<rect x="1060" y="611" width="6" height="10" fill="#ff5252"/>
<rect x="1067" y="611" width="6" height="15" fill="#ff5252"/>
<rect x="1074" y="611" width="5" height="12" fill="#ffcdd2"/>
<rect x="1080" y="611" width="6" height="5" fill="#ffcdd2"/>
<rect x="1087" y="605" width="6" height="7" fill="#26a69a"/>
<rect x="1094" y="594" width="5" height="18" fill="#26a69a"/>
<rect x="1100" y="604" width="6" height="8" fill="#b2dfdb"/>
<rect x="1107" y="611" width="6" height="2" fill="#ff5252"/>
<rect x="1114" y="611" width="5" height="9" fill="#ff5252"/>
<rect x="1120" y="611" width="6" height="12" fill="#ff5252"/>
<rect x="1127" y="611" width="6" height="14" fill="#ff5252"/>
<rect x="1134" y="611" width="5" height="14" fill="#ffcdd2"/>
<rect x="1140" y="611" width="6" height="9" fill="#ffcdd2"/>
<rect x="1147" y="611" width="6" height="5" fill="#ffcdd2"/>
<rect x="1154" y="611" width="5" height="1" fill="#26a69a"/>
<rect x="1160" y="611" width="6" height="3" fill="#ff5252"/>
<rect x="1167" y="604" width="6" height="8" fill="#26a69a"/>
<rect x="1174" y="602" width="5" height="10" fill="#26a69a"/>
<rect x="1180" y="605" width="6" height="7" fill="#b2dfdb"/>
<rect x="1187" y="609" width="6" height="3" fill="#b2dfdb"/>
<rect x="1194" y="610" width="5" height="2" fill="#b2dfdb"/>
<rect x="1200" y="606" width="6" height="6" fill="#26a69a"/>
<rect x="1207" y="605" width="6" height="7" fill="#26a69a"/>
<polyline points="0.0,594.5 7.0,597.1 14.8,598.0 21.7,604.9 27.8,611.0 34.8,613.1 41.7,612.8 47.8,608.9 54.7,603.2 61.3,598.9 68.1,595.7 74.7,596.8 81.3,598.0 88.1,592.8 94.9,577.1 101.8,562.4 108.4,554.9 115.0,550.2 122.0,548.1 128.6,547.6 135.2,553.7 142.0,564.5 148.6,574.5 155.0,584.1 162.0,589.8 168.6,596.3 175.0,605.8 181.9,607.6 188.5,608.4 195.1,604.9 201.9,602.0 208.5,605.3 215.1,600.6 221.9,589.8 228.5,581.5 235.1,579.2 241.9,576.8 248.5,569.3 255.1,564.5 261.9,562.4 268.5,562.7 275.1,565.9 281.8,566.2 288.5,562.9 295.1,572.8 301.8,580.6 310.0,585.8 315.1,589.3 322.1,594.2 328.7,590.5 335.4,587.1 342.1,590.2 348.7,591.0 355.4,591.9 362.0,591.4 368.8,594.9 375.4,601.1 382.0,605.3 388.8,609.8 395.4,614.5 402.0,618.9 408.8,616.2 415.4,614.0 422.0,610.2 428.8,607.9 435.4,609.3 442.1,610.2 448.7,606.2 455.3,604.1 462.1,593.7 468.7,585.0 475.3,575.4 481.9,566.4 488.7,571.9 495.3,570.2 501.9,569.7 508.7,570.5 515.3,575.4 521.9,580.6 528.7,585.3 535.3,590.5 541.9,589.7 548.7,591.6 555.3,591.4 562.0,593.7 568.6,598.5 575.2,595.4 582.0,592.3 588.6,592.8 595.4,592.3 602.0,591.6 610.0,586.7 615.6,582.4 622.2,581.1 629.0,582.2 635.6,582.4 642.4,582.0 649.0,578.9 655.6,575.4 662.4,573.7 669.0,569.7 675.8,567.9 682.4,567.6 689.0,568.5 695.6,571.9 702.2,574.5 709.0,577.5 715.6,578.0 722.2,580.1 728.9,579.8 735.5,595.4 742.3,607.6 748.9,616.2 755.7,624.1 763.0,631.4 768.9,628.4 775.7,626.3 782.3,622.0 789.1,618.9 795.7,615.9 802.3,614.0 809.0,611.6 815.6,608.9 823.3,609.8 829.0,626.7 835.6,644.4 842.4,651.3 849.9,658.8 856.3,660.0 862.4,659.7 869.0,656.2 875.8,652.2 882.4,649.3 889.1,640.2 895.8,630.1 902.4,623.2 910.0,619.7 916.5,618.9 923.3,617.1 929.9,621.5 936.5,627.5 943.3,634.1 949.9,635.4 956.6,633.1 963.3,631.4 969.9,627.2 976.6,636.2 983.2,639.4 990.0,639.7 996.6,640.9 1003.2,640.2 1010.0,643.2 1016.6,644.9 1023.4,642.8 1030.0,638.8 1036.6,635.4 1043.4,631.9 1050.0,627.0 1056.7,631.9 1063.3,645.8 1069.9,656.2 1076.7,657.1 1083.3,652.2 1090.1,638.0 1096.7,621.5 1103.3,629.3 1110.1,637.1 1116.7,645.8 1123.5,654.5 1130.1,661.1 1136.7,665.8 1143.4,664.0 1150.1,662.3 1156.8,657.6 1163.4,660.0 1170.0,647.9 1176.8,642.3 1183.4,643.2 1190.2,645.8 1196.8,647.0 1203.4,639.7 1210.0,637.1" fill="none" stroke="#2196f3" stroke-width="1.2" stroke-linejoin="round" stroke-linecap="round"/>
<polyline points="0.0,590.7 7.0,592.8 14.8,595.4 21.7,598.9 27.8,602.3 34.8,605.3 41.7,607.0 47.8,607.6 54.7,605.8 61.3,603.7 68.1,601.8 74.7,600.6 81.3,600.3 88.1,598.0 94.9,591.9 101.8,583.2 108.4,574.5 115.0,566.7 122.0,561.5 128.6,558.0 135.2,556.3 142.0,558.6 148.6,562.4 155.0,568.5 162.0,574.5 168.6,580.6 175.0,587.6 181.9,593.7 188.5,597.7 195.1,600.3 201.9,601.0 208.5,601.8 215.1,601.0 221.9,598.0 228.5,593.7 235.1,589.3 241.9,585.8 248.5,581.1 255.1,576.3 261.9,572.8 268.5,569.8 275.1,568.5 281.8,567.9 288.5,566.4 295.1,567.9 301.8,571.6 310.0,576.3 315.1,579.8 322.1,583.6 328.7,585.3 335.4,585.8 342.1,587.1 348.7,588.1 355.4,589.3 362.0,589.8 368.8,591.6 375.4,594.5 382.0,598.0 388.8,601.5 395.4,605.3 402.0,608.8 408.8,610.7 415.4,611.6 422.0,611.6 428.8,610.7 435.4,610.2 442.1,610.2 448.7,609.3 455.3,607.9 462.1,604.1 468.7,598.9 475.3,591.9 481.9,584.6 488.7,581.0 495.3,578.0 501.9,575.4 508.7,574.2 515.3,574.5 521.9,576.3 528.7,578.9 535.3,582.0 541.9,584.1 548.7,586.4 555.3,587.9 562.0,589.7 568.6,591.9 575.2,592.4 582.0,592.4 588.6,592.4 595.4,592.3 602.0,591.9 610.0,590.5 615.6,588.4 622.2,586.4 629.0,585.0 635.6,584.4 642.4,583.8 649.0,582.0 655.6,580.1 662.4,578.0 669.0,575.8 675.8,573.7 682.4,572.3 689.0,571.1 695.6,571.1 702.2,571.9 709.0,573.3 715.6,574.5 722.2,576.3 728.9,577.5 735.5,582.4 742.3,589.3 748.9,597.1 755.7,604.9 763.0,611.9 768.9,616.2 775.7,619.4 782.3,620.2 789.1,619.7 795.7,618.5 802.3,617.1 809.0,615.4 815.6,613.6 823.3,612.4 829.0,615.9 835.6,624.1 842.4,631.9 849.9,639.7 856.3,645.4 862.4,648.9 869.0,651.0 875.8,651.5 882.4,651.0 889.1,648.4 895.8,643.2 902.4,637.1 910.0,631.4 916.5,628.4 923.3,625.3 929.9,624.4 936.5,625.3 943.3,627.5 949.9,629.6 956.6,630.7 963.3,630.7 969.9,630.1 976.6,632.2 983.2,634.1 990.0,635.7 996.6,637.1 1003.2,638.0 1010.0,639.7 1016.6,641.1 1023.4,641.8 1030.0,640.9 1036.6,639.7 1043.4,637.6 1050.0,634.5 1056.7,634.1 1063.3,638.0 1069.9,643.2 1076.7,647.0 1083.3,648.4 1090.1,645.8 1096.7,638.8 1103.3,635.7 1110.1,636.2 1116.7,638.8 1123.5,643.7 1130.1,648.7 1136.7,653.6 1143.4,656.6 1150.1,657.9 1156.8,657.9 1163.4,658.8 1170.0,655.3 1176.8,651.9 1183.4,649.3 1190.2,648.4 1196.8,647.9 1203.4,645.8 1210.0,643.5" fill="none" stroke="#ff6d00" stroke-width="1.2" stroke-linejoin="round" stroke-linecap="round"/>
</svg>
<div class="t ax" style="top:525.7px">4840.00</div>
<div class="t ax" style="top:493.0px">4860.00</div>
<div class="t ax" style="top:460.3px">4880.00</div>
<div class="t ax" style="top:427.6px">4900.00</div>
<div class="t ax" style="top:394.9px">4920.00</div>
<div class="t ax" style="top:362.2px">4940.00</div>
<div class="t ax" style="top:329.5px">4960.00</div>
<div class="t ax" style="top:296.8px">4980.00</div>
<div class="t ax" style="top:264.1px">5000.00</div>
<div class="t ax" style="top:231.4px">5020.00</div>
<div class="t ax" style="top:198.7px">5040.00</div>
<div class="t ax" style="top:166.0px">5060.00</div>
<div class="t ax" style="top:133.3px">5080.00</div>
<div class="t ax" style="top:100.6px">5100.00</div>
<div class="t ax" style="top:67.9px">5120.00</div>
<div class="t ax" style="top:35.2px">5140.00</div>
<div class="t ax" style="top:2.5px">5160.00</div>
<div class="t ax" style="top:554.8px">20.00</div>
<div class="t ax" style="top:612.3px">0.00</div>
<div class="t ax" style="top:669.8px">−20.00</div>
<div class="lb" style="top:74.5px;background:#f23645;width:59px;">5115.88</div>
<div class="lb" style="top:215.5px;background:#f23645;width:59px;">5030.03</div>
<div class="lb" style="top:318.5px;background:#f23645;width:59px;">4966.58</div>
<div class="lb" style="top:337.5px;background:#9c27b0;width:59px;">4945.06</div>
<div class="lb" style="top:354.5px;background:#e91e63;width:59px;">4936.81</div>
<div class="lb" style="top:371.5px;background:#f23645;width:59px;">4934.37</div>
<div class="lb" style="top:426.5px;background:#4caf50;width:59px;">4900.80</div>
<div class="lb" style="top:606px;background:#26a69a;width:40px;">2.15</div>
<div class="lb" style="top:637.5px;background:#2196f3;width:46px;">−9.03</div>
<div class="lb" style="top:654.5px;background:#ff6d00;width:52px;">−11.18</div>
<div class="t tm" style="left:75.6px;">7</div>
<div class="t tm" style="left:155.8px;">11</div>
<div class="t tm" style="left:235.9px;">13</div>
<div class="t tm" style="left:316.0px;">15</div>
<div class="t tm" style="left:396.1px;">19</div>
<div class="t tm" style="left:476.2px;">21</div>
<div class="t tm" style="left:556.4px;">25</div>
<div class="t tm" style="left:636.5px;">27</div>
<div class="t tm" style="left:716.6px;font-weight:bold;">Avr</div>
<div class="t tm" style="left:796.7px;">4</div>
<div class="t tm" style="left:876.8px;">8</div>
<div class="t tm" style="left:957.0px;">10</div>
<div class="t tm" style="left:1037.1px;">12</div>
<div class="t tm" style="left:1117.2px;">16</div>
<div class="t tm" style="left:1197.3px;">18</div>
<div class="t tm" style="left:1277.4px;">22</div>
<div class="t tm" style="left:1357.5px;">24</div>
<div class="t tm" style="left:1437.7px;">26</div>
<div class="t tm" style="left:1557.8px;font-weight:bold;">Mai</div>
<div class="t tm" style="left:1638.0px;">3</div>
<div class="t tm" style="left:1718.1px;">7</div>
<svg style="position:absolute;left:1746px;top:683px" width="21" height="21" viewBox="-10.5 -10.5 21 21"><g stroke="#131722" stroke-width="1.2" fill="none" stroke-linecap="round"><circle r="5.2"/>
<line x1="5.20" y1="0.00" x2="7.00" y2="0.00"/>
<line x1="3.68" y1="3.68" x2="4.95" y2="4.95"/>
<line x1="0.00" y1="5.20" x2="0.00" y2="7.00"/>
<line x1="-3.68" y1="3.68" x2="-4.95" y2="4.95"/>
<line x1="-5.20" y1="0.00" x2="-7.00" y2="0.00"/>
<line x1="-3.68" y1="-3.68" x2="-4.95" y2="-4.95"/>
<line x1="-0.00" y1="-5.20" x2="-0.00" y2="-7.00"/>
<line x1="3.68" y1="-3.68" x2="4.95" y2="-4.95"/>
</g></svg>
<div class="bg" style="left:0;top:3px;width:465px;height:19px"></div>
<div class="t" style="left:6px;top:6.2px;font-size:15px;letter-spacing:-0.08px">Euro50 · 4h</div>
<div style="position:absolute;left:99px;top:4px;width:18px;height:18px;border-radius:50%;background:#d9f0eb"></div>
<div style="position:absolute;left:103.75px;top:8.75px;width:8.5px;height:8.5px;border-radius:50%;background:#089981"></div>
<div class="t" style="left:133px;top:8px;font-size:13px;letter-spacing:-0.35px"><span>O</span><span style="color:#f23645">4944.27</span><span style="display:inline-block;width:7.5px"></span><span>H</span><span style="color:#f23645">4952.49</span><span style="display:inline-block;width:7.5px"></span><span>B</span><span style="color:#f23645">4934.37</span><span style="display:inline-block;width:7.5px"></span><span>C</span><span style="color:#f23645">4934.37</span><span style="display:inline-block;width:7.5px"></span><span style="color:#f23645">−8.44 (−0.17%)</span></div>
<div style="position:absolute;left:5px;top:29px;width:62px;height:38px;box-sizing:border-box;border:1px solid #f23645;border-radius:4px;background:#fff;color:#f23645;font-size:13px;line-height:38px;text-align:center;letter-spacing:-0.3px">4934.37</div>
<div style="position:absolute;left:123px;top:29px;width:61px;height:38px;box-sizing:border-box;border:1px solid #26a69a;border-radius:4px;background:#fff;color:#26a69a;font-size:13px;line-height:38px;text-align:center;letter-spacing:-0.3px">4935.70</div>
<div class="t" style="left:70px;top:31px;width:48px;text-align:center;font-size:10.5px;color:#131722">1.33</div>
<div style="position:absolute;left:71px;top:45px;width:48px;height:22px;border-radius:3px;background:#f5f6fb;font-size:13px;line-height:22px;text-align:center;letter-spacing:-0.3px">600.1</div>
<div class="bg" style="left:0;top:72px;width:193px;height:22px"></div>
<div class="bg" style="left:0;top:96px;width:193px;height:22px"></div>
<div class="t" style="left:6px;top:77px;font-size:13px;color:#434651;letter-spacing:-0.5px">EMA 13 close 0 SMA 9</div>
<div class="t" style="left:143px;top:77px;font-size:13px;color:#e91e63;letter-spacing:-0.3px">4936.81</div>
<div class="t" style="left:6px;top:101px;font-size:13px;color:#434651;letter-spacing:-0.5px">EMA 21 close 0 SMA 9</div>
<div class="t" style="left:143px;top:101px;font-size:13px;color:#9c27b0;letter-spacing:-0.3px">4945.06</div>
<div style="position:absolute;left:6px;top:121px;width:29px;height:21px;box-sizing:border-box;border:1px solid #d1d4dc;border-radius:3px;background:#fff"><svg width="27" height="19" viewBox="0 0 27 19" style="display:block"><path d="M10 11.5 L13.5 8 L17 11.5" fill="none" stroke="#131722" stroke-width="1.4"/></svg></div>
<div class="bg" style="left:0;top:539px;width:240px;height:21px"></div>
<div class="t" style="left:5px;top:543px;font-size:13px;color:#434651;letter-spacing:-0.35px">MACD 9 19 close 6</div>
<div class="t" style="left:126px;top:543px;font-size:13px;letter-spacing:-0.3px"><span style="color:#26a69a">2.15</span> <span style="color:#2196f3;margin-left:3px">−9.03</span> <span style="color:#ff6d00;margin-left:3.5px">−11.18</span></div>
</body></html>
